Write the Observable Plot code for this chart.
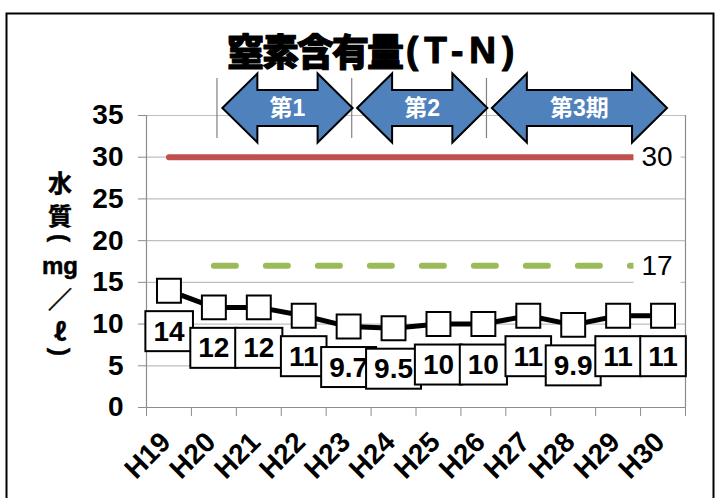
<!DOCTYPE html>
<html>
<head>
<meta charset="utf-8">
<script src="https://cdn.jsdelivr.net/npm/d3@7"></script>
<script src="https://cdn.jsdelivr.net/npm/@observablehq/plot@0.6"></script>
<style>
  body { margin: 0; background: #fff; }
</style>
</head>
<body>
<div id="chart"></div>
<script>
// Fiscal years (Heisei)
const years = ["H19", "H20", "H21", "H22", "H23", "H24", "H25", "H26", "H27", "H28", "H29", "H30"];
// Total nitrogen (mg/ℓ)
const tnValues = [14, 12, 12, 11, 9.7, 9.5, 10, 10, 11, 9.9, 11, 11];
// Reference levels
const limitRed = [30, 30, 30, 30, 30, 30, 30, 30, 30, 30, 30, 30];
const limitGreen = [null, 17, 17, 17, 17, 17, 17, 17, 17, 17, 17, 17];
// Axis ticks
const yTicks = [0, 5, 10, 15, 20, 25, 30, 35];
// Plan periods shown as arrows above the plot
const periodLabels = ["第1", "第2", "第3期"];
const periodStart = ["H20", "H23", "H26"];
const periodEnd = ["H23", "H26", "H30"];
// Texts
const titleMain = "窒素含有量";
const titleSub = "(T-N)";
// vertical axis title, written top to bottom: 水質(mg／ℓ)
const yTitleParts = ["水", "質", "(", "mg", "／", "ℓ", ")"];

const FONT = "'Liberation Sans', Arial, 'Noto Sans CJK JP', sans-serif";
const CJK = "'Noto Sans CJK JP', 'Liberation Sans', sans-serif";
const pos = (year) => years.indexOf(year) + 0.5;

const rows = years.map((year, i) => ({
  year, x: i + 0.5, tn: tnValues[i], red: limitRed[i], green: limitGreen[i]
}));
const lastYear = years[years.length - 1];
const limitLabels = [
  {x: pos(lastYear), y: limitRed[limitRed.length - 1]},
  {x: pos(lastYear), y: limitGreen[limitGreen.length - 1]}
];

const chart = Plot.plot({
  width: 717,
  height: 498,
  marginLeft: 146,
  marginRight: 32,
  marginTop: 115,
  marginBottom: 91,
  style: {fontFamily: FONT, fontSize: "28px", fontWeight: "bold", color: "#000", background: "#fff", overflow: "visible"},
  x: {domain: [0, years.length], ticks: d3.range(years.length + 1), tickFormat: () => "", tickSize: 9, label: null},
  y: {domain: [0, 35], ticks: yTicks, tickSize: 8, tickPadding: 15, label: null},
  marks: [
    Plot.ruleY(yTicks, {stroke: "#bfbfbf", strokeWidth: 1.2}),
    Plot.ruleX([0, years.length], {stroke: "#8c8c8c", strokeWidth: 1.2}),
    Plot.ruleY([0], {stroke: "#8c8c8c", strokeWidth: 1.2}),
    Plot.line(rows, {x: "x", y: "red", stroke: "#C0504D", strokeWidth: 6, strokeLinecap: "round"}),
    Plot.line(rows, {x: "x", y: "green", stroke: "#9BBB59", strokeWidth: 6, strokeDasharray: "22,30", strokeLinecap: "round"}),
    Plot.text(limitLabels, {x: "x", y: "y", text: (d) => String(d.y), dx: -6, fontSize: 28, fontWeight: "normal", ariaDescription: "limit-labels"}),
    Plot.line(rows, {x: "x", y: "tn", stroke: "#000", strokeWidth: 5}),
    Plot.dot(rows, {x: "x", y: "tn", symbol: "square", r: 13.5, fill: "#fff", stroke: "#000", strokeWidth: 2}),
    Plot.text(rows, {x: "x", y: "tn", text: (d) => String(d.tn), dy: 41, fontSize: 28, ariaDescription: "value-labels"}),
    Plot.text(rows, {x: "x", y: 0, text: "year", rotate: -45, textAnchor: "end", dx: -3, dy: 30, fontSize: 28, ariaDescription: "year-labels"})
  ]
});

document.getElementById("chart").append(chart);
const svg = d3.select(chart);

// gray ticks, black labels
svg.selectAll('[aria-label="y-axis tick"], [aria-label="x-axis tick"]').attr("stroke", "#8c8c8c");
svg.selectAll('[aria-label="y-axis"] line, [aria-label="x-axis"] line').attr("stroke", "#8c8c8c");

// find the text layers (by description, falling back to mark order)
const textLayers = svg.selectAll('g[aria-label="text"]').nodes();
const layer = (desc, i) => chart.querySelector(`g[aria-description="${desc}"]`) || textLayers[i];

// put a box behind each label, in the label's own coordinate frame
function boxTexts(g, stroke) {
  if (!g) return;
  d3.select(g).selectAll("text").each(function () {
    const b = this.getBBox();
    const t = this.getAttribute("transform");
    const r = d3.select(this.parentNode).insert("rect", () => this)
      .attr("x", b.x - 8).attr("y", b.y + b.height / 2 - 20)
      .attr("width", b.width + 16).attr("height", 40)
      .attr("fill", "#fff")
      .attr("stroke", stroke ? "#000" : "none").attr("stroke-width", 2);
    if (t) r.attr("transform", t);
  });
}
boxTexts(layer("value-labels", 1), true);
boxTexts(layer("limit-labels", 0), false);

const xs = chart.scale("x"), ys = chart.scale("y");
const X = (v) => xs.apply(v);
const plotTop = ys.apply(35);
const cy = plotTop - 7;
const headH = 34.5, shaftH = 18, headL = 35;

const deco = svg.append("g").attr("font-weight", "bold");

// period separators
periodStart.forEach((s) => {
  const sx = X(pos(s) + 0.08);
  deco.append("line").attr("x1", sx).attr("x2", sx).attr("y1", cy - 30).attr("y2", cy + 30)
    .attr("stroke", "#808080").attr("stroke-width", 1.2);
});

// double-headed period arrows
periodLabels.forEach((label, k) => {
  const x0 = X(pos(periodStart[k]) + 0.2), x1 = X(pos(periodEnd[k]) + 0.1);
  const p = d3.path();
  p.moveTo(x0, cy);
  p.lineTo(x0 + headL, cy - headH);
  p.lineTo(x0 + headL, cy - shaftH);
  p.lineTo(x1 - headL, cy - shaftH);
  p.lineTo(x1 - headL, cy - headH);
  p.lineTo(x1, cy);
  p.lineTo(x1 - headL, cy + headH);
  p.lineTo(x1 - headL, cy + shaftH);
  p.lineTo(x0 + headL, cy + shaftH);
  p.lineTo(x0 + headL, cy + headH);
  p.closePath();
  deco.append("path").attr("d", p.toString())
    .attr("fill", "#4F81BD").attr("stroke", "#000").attr("stroke-width", 2).attr("stroke-linejoin", "miter");
  deco.append("text").attr("x", (x0 + x1) / 2).attr("y", cy)
    .attr("text-anchor", "middle").attr("dominant-baseline", "central")
    .attr("fill", "#fff").attr("font-family", FONT).attr("font-size", 23)
    .text(label);
});

// title (heavy gothic: bold face plus a thin outline)
const title = deco.append("text").attr("x", 227).attr("y", 50)
  .attr("text-anchor", "start").attr("dominant-baseline", "central")
  .attr("stroke", "#000").attr("stroke-width", 1.1).attr("stroke-linejoin", "round");
title.append("tspan").attr("font-family", CJK).attr("font-weight", 900).attr("font-size", 37)
  .attr("letter-spacing", -2).text(titleMain);
title.append("tspan").attr("font-family", FONT).attr("font-size", 37).attr("dx", 4)
  .attr("letter-spacing", 6).text(titleSub);

// vertical y-axis title: one glyph group per line, parentheses turned sideways
const yTitleX = 60;
const yTitleY = [181, 214, 238, 265, 297, 330, 352];
const yTitleFont = [CJK, CJK, FONT, FONT, CJK, CJK, FONT];
const yTitleTurn = [0, 0, 90, 0, 0, 0, 90];
yTitleParts.forEach((t, i) => {
  deco.append("text")
    .attr("transform", `translate(${yTitleX},${yTitleY[i]}) rotate(${yTitleTurn[i]})`)
    .attr("font-family", yTitleFont[i]).attr("font-size", 24)
    .attr("text-anchor", "middle").attr("dominant-baseline", "central")
    .attr("stroke", "#000").attr("stroke-width", 0.5)
    .text(t);
});

// outer frame
deco.append("rect").attr("x", 6.5).attr("y", 13.5).attr("width", 707).attr("height", 500)
  .attr("fill", "none").attr("stroke", "#000").attr("stroke-width", 2);
</script>
</body>
</html>
